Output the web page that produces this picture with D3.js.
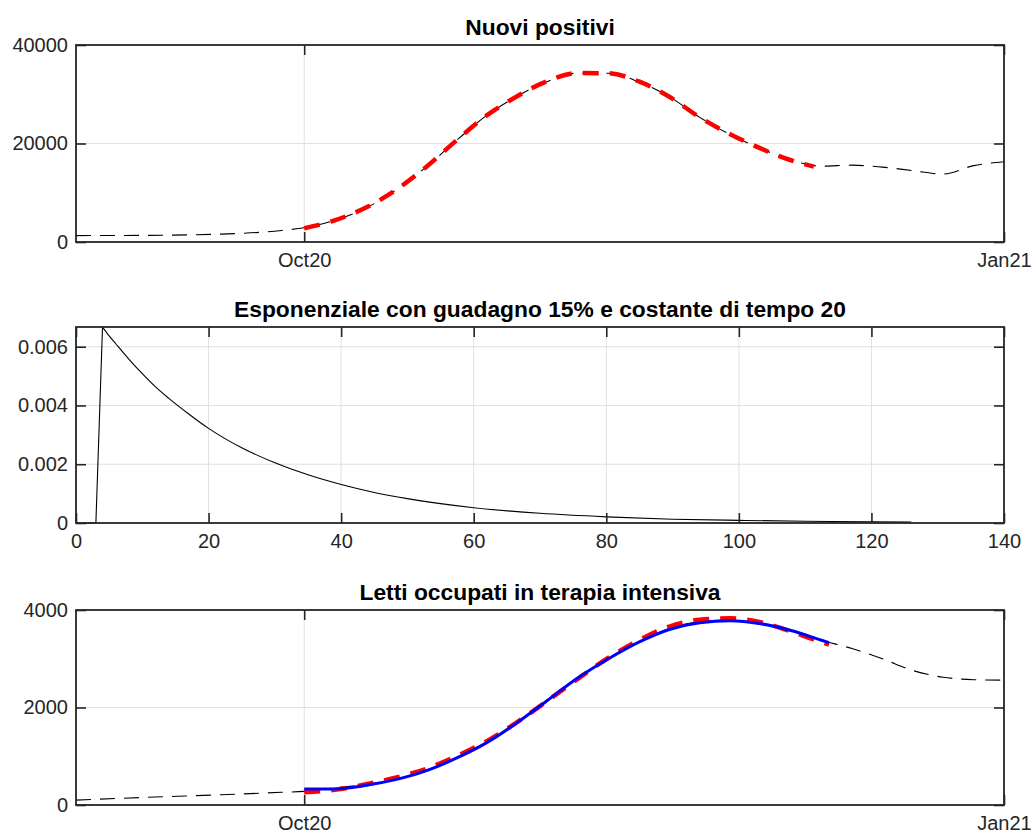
<!DOCTYPE html>
<html>
<head>
<meta charset="utf-8">
<script src="https://cdn.jsdelivr.net/npm/d3@7"></script>
<style>
    body { margin: 0; background: #fff; }
    text { font-family: "Liberation Sans", Arial, Helvetica, sans-serif; }
</style>
</head>
<body>
<svg id="chart" width="1032" height="837"></svg>
<script>
// --- data ---
const fullDates = [
    "2020-09-01", "2020-09-10", "2020-09-20", "2020-09-25", "2020-09-28",
    "2020-10-01", "2020-10-05", "2020-10-09", "2020-10-13", "2020-10-17",
    "2020-10-21", "2020-10-25", "2020-10-29", "2020-11-02", "2020-11-06",
    "2020-11-10", "2020-11-14", "2020-11-18", "2020-11-22", "2020-11-26",
    "2020-11-30", "2020-12-04", "2020-12-08", "2020-12-12", "2020-12-16",
    "2020-12-20", "2020-12-24", "2020-12-28", "2021-01-01"
]
const positivi = [
    1300, 1350, 1600, 1950, 2350,
    2900, 4400, 6800, 10500, 15200,
    20600, 25700, 29600, 32600, 34300,
    34250, 32500, 29500, 25300, 21800,
    19000, 16600, 15400, 15600, 15200,
    14500, 13800, 15500, 16300
]
const posFitDates = [
    "2020-10-01", "2020-10-05", "2020-10-09", "2020-10-13", "2020-10-17",
    "2020-10-21", "2020-10-25", "2020-10-29", "2020-11-02", "2020-11-06",
    "2020-11-10", "2020-11-14", "2020-11-18", "2020-11-22", "2020-11-26",
    "2020-11-30", "2020-12-04", "2020-12-07"
]
const posFit = [
    2800, 4400, 6900, 10500, 15200,
    20600, 25700, 29600, 32700, 34300,
    34250, 32600, 29500, 25300, 21900,
    19000, 16600, 15300
]

const expT = [1, 2, 3, 4, 5, 6, 7, 8, 10, 12, 14, 17, 20, 25, 30, 35, 40, 45, 50, 55, 60, 70, 80, 90, 100, 110, 120, 126]
const expV = [
    0, 0, 0, 0.00667, 0.00637, 0.0061, 0.00583, 0.00557, 0.00508, 0.00463,
    0.00424, 0.00371, 0.00322, 0.00256, 0.00205, 0.00164, 0.00131, 0.00104,
    0.00083, 0.00066, 0.00052, 0.00033, 0.00021, 0.00013, 0.00009, 0.00006,
    0.00004, 0.00003
]

const letti = [
    100, 155, 210, 240, 260,
    280, 350, 420, 530, 700,
    975, 1290, 1690, 2140, 2600,
    2990, 3340, 3620, 3760, 3790,
    3710, 3570, 3380, 3210, 3000,
    2760, 2620, 2570, 2560
]
const lettiFitDates = [
    "2020-10-01", "2020-10-05", "2020-10-09", "2020-10-13", "2020-10-17",
    "2020-10-21", "2020-10-25", "2020-10-29", "2020-11-02", "2020-11-06",
    "2020-11-10", "2020-11-14", "2020-11-18", "2020-11-22", "2020-11-26",
    "2020-11-30", "2020-12-04", "2020-12-08", "2020-12-09"
]
const lettiFit = [
    260, 310, 420, 560, 740,
    1000, 1310, 1700, 2140, 2590,
    3020, 3380, 3660, 3800, 3830,
    3750, 3560, 3340, 3290
]
const lettiModel = [
    330, 330, 400, 520, 700,
    960, 1280, 1690, 2150, 2610,
    3000, 3340, 3600, 3740, 3780,
    3720, 3580, 3380, 3330
]

const titles = [
    "Nuovi positivi",
    "Esponenziale con guadagno 15% e costante di tempo 20",
    "Letti occupati in terapia intensiva"
]
const dateTicks = ["2020-10-01", "2021-01-01"]
const expXTicks = [0, 20, 40, 60, 80, 100, 120, 140]

// --- layout ---
const parse = d3.utcParse("%Y-%m-%d")
const svg = d3.select("#chart")
const left = 76, right = 1004
const panels = [
    {top: 45, bottom: 242},
    {top: 327, bottom: 523},
    {top: 610, bottom: 805}
]
const ink = "#262626"
const gridColor = "#e0e0e0"
const tickLen = 10

function drawFrame(p, x, y, xTicks, yTicks, xFmt, yFmt, title) {
    const g = svg.append("g")

    // grid
    g.append("g").selectAll("line")
        .data(xTicks)
        .join("line")
        .attr("x1", d => x(d)).attr("x2", d => x(d))
        .attr("y1", p.top).attr("y2", p.bottom)
        .attr("stroke", gridColor)
    g.append("g").selectAll("line")
        .data(yTicks)
        .join("line")
        .attr("x1", left).attr("x2", right)
        .attr("y1", d => y(d)).attr("y2", d => y(d))
        .attr("stroke", gridColor)

    const layer = svg.append("g")

    // axes, ticks pointing inward on all four sides
    const axes = svg.append("g").attr("color", ink)
    axes.append("g")
        .attr("transform", `translate(0,${p.bottom})`)
        .call(d3.axisBottom(x).tickValues(xTicks).tickFormat(xFmt)
            .tickSize(-tickLen).tickSizeOuter(0).tickPadding(11))
    axes.append("g")
        .attr("transform", `translate(0,${p.top})`)
        .call(d3.axisTop(x).tickValues(xTicks).tickFormat("")
            .tickSize(-tickLen).tickSizeOuter(0))
    axes.append("g")
        .attr("transform", `translate(${left},0)`)
        .call(d3.axisLeft(y).tickValues(yTicks).tickFormat(yFmt)
            .tickSize(-tickLen).tickSizeOuter(0).tickPadding(8))
    axes.append("g")
        .attr("transform", `translate(${right},0)`)
        .call(d3.axisRight(y).tickValues(yTicks).tickFormat("")
            .tickSize(-tickLen).tickSizeOuter(0))

    axes.selectAll(".domain").remove()
    axes.selectAll(".tick line").attr("stroke-width", 1.6)
    axes.selectAll(".tick text")
        .attr("font-size", 20)
        .attr("font-family", '"Liberation Sans", Arial, Helvetica, sans-serif')
        .attr("fill", ink)

    axes.append("rect")
        .attr("x", left).attr("y", p.top)
        .attr("width", right - left).attr("height", p.bottom - p.top)
        .attr("fill", "none")
        .attr("stroke", ink)
        .attr("stroke-width", 1.8)

    svg.append("text")
        .attr("x", (left + right) / 2)
        .attr("y", p.top - 10)
        .attr("text-anchor", "middle")
        .attr("font-size", 22.8)
        .attr("font-weight", "bold")
        .attr("fill", "#000")
        .text(title)

    return layer
}

function plotLine(layer, xs, ys, x, y, style) {
    const line = d3.line()
        .x(d => x(d[0]))
        .y(d => y(d[1]))
        .curve(style.curve || d3.curveMonotoneX)
    layer.append("path")
        .datum(xs.map((v, i) => [v, ys[i]]))
        .attr("d", line)
        .attr("fill", "none")
        .attr("stroke", style.color)
        .attr("stroke-width", style.width)
        .attr("stroke-dasharray", style.dash || null)
        .attr("stroke-linejoin", "round")
}

const xDate = d3.scaleUtc()
    .domain([parse("2020-09-01"), parse("2021-01-01")])
    .range([left, right])
const dateFmt = d3.utcFormat("%b%y")
const dTicks = dateTicks.map(parse)

const blackDash = {color: "#000", width: 1.1, dash: "15,9"}
const redDash = {color: "#ff0000", width: 4.5, dash: "16,11"}

// panel 1: nuovi positivi
const y1 = d3.scaleLinear().domain([0, 40000]).range([panels[0].bottom, panels[0].top])
const l1 = drawFrame(panels[0], xDate, y1, dTicks, [0, 20000, 40000], dateFmt, d3.format("d"), titles[0])
plotLine(l1, fullDates.map(parse), positivi, xDate, y1, blackDash)
plotLine(l1, posFitDates.map(parse), posFit, xDate, y1, redDash)

// panel 2: exponential kernel (sharp rise, then smooth decay)
const x2 = d3.scaleLinear().domain([0, 140]).range([left, right])
const y2 = d3.scaleLinear().domain([0, d3.max(expV)]).range([panels[1].bottom, panels[1].top])
const l2 = drawFrame(panels[1], x2, y2, expXTicks, [0, 0.002, 0.004, 0.006],
    d3.format("d"), d => d === 0 ? "0" : d3.format(".3f")(d), titles[1])
const peak = expV.indexOf(d3.max(expV))
plotLine(l2, expT.slice(0, peak + 1), expV.slice(0, peak + 1), x2, y2,
    {color: "#000", width: 1.1, curve: d3.curveLinear})
plotLine(l2, expT.slice(peak), expV.slice(peak), x2, y2,
    {color: "#000", width: 1.1, curve: d3.curveMonotoneX})

// panel 3: letti in terapia intensiva
const y3 = d3.scaleLinear().domain([0, 4000]).range([panels[2].bottom, panels[2].top])
const l3 = drawFrame(panels[2], xDate, y3, dTicks, [0, 2000, 4000], dateFmt, d3.format("d"), titles[2])
plotLine(l3, fullDates.map(parse), letti, xDate, y3, blackDash)
plotLine(l3, lettiFitDates.map(parse), lettiFit, xDate, y3, redDash)
plotLine(l3, lettiFitDates.map(parse), lettiModel, xDate, y3, {color: "#0000ff", width: 3})
</script>
</body>
</html>
